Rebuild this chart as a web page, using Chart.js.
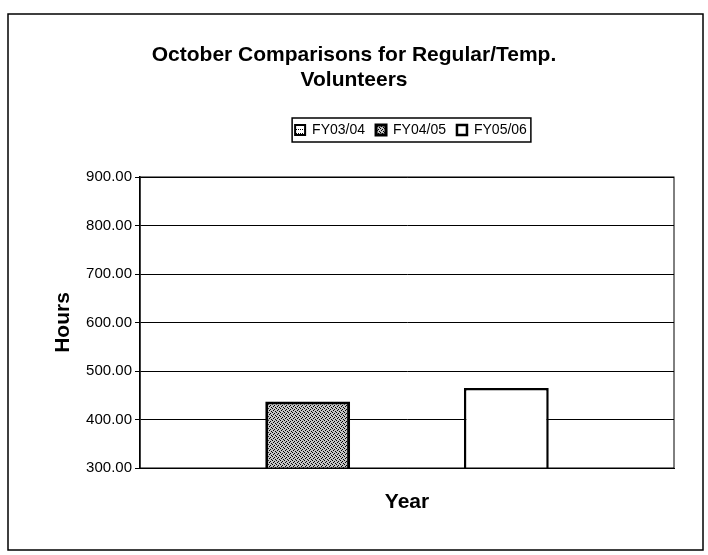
<!DOCTYPE html>
<html lang="en">
<head>
    <meta charset="UTF-8">
    <title>October Comparisons for Regular/Temp. Volunteers</title>
    <script src="https://cdn.jsdelivr.net/npm/chart.js"></script>
    <style>
        body { margin: 0; background: #fff; }
        #wrap { width: 708px; height: 555px; }
    </style>
</head>
<body>
    <div id="wrap"><canvas id="chart" width="708" height="555"></canvas></div>
    <script>
        const categories = ['Year'];
        const seriesNames = ['FY03/04', 'FY04/05', 'FY05/06'];
        const fy0304 = [null];
        const fy0405 = [437];
        const fy0506 = [465];
        const yTicks = [300, 400, 500, 600, 700, 800, 900];

        const FONT = '"Liberation Sans", Arial, sans-serif';

        // speckled gray fill like the scanned print
        function stipple(bg, dots) {
            const c = document.createElement('canvas');
            c.width = 4; c.height = 4;
            const g = c.getContext('2d');
            g.fillStyle = bg;
            g.fillRect(0, 0, 4, 4);
            g.fillStyle = '#000';
            dots.forEach(d => g.fillRect(d[0], d[1], 1, 1));
            return g.createPattern(c, 'repeat');
        }
        const darkFill = stipple('#c4c4c4', [[0, 0], [2, 1], [1, 2], [3, 3]]);
        const lightFill = stipple('#ffffff', [[0, 1], [2, 1]]);

        const framePlugin = {
            id: 'frame',
            beforeLayout(chart) {
                const lg = chart.legend;
                if (lg && !lg._patched) {
                    const fit = lg.fit;
                    lg.fit = function () { fit.call(this); this.height = 65; };
                    lg._patched = true;
                }
            },
            afterLayout(chart) {
                const lg = chart.legend;
                lg.left += 57;
                lg.right += 57;
            },
            beforeDraw(chart) {
                const ctx = chart.ctx;
                ctx.save();
                ctx.fillStyle = '#fff';
                ctx.fillRect(0, 0, chart.width, chart.height);
                ctx.strokeStyle = '#000';
                ctx.lineWidth = 1.5;
                ctx.strokeRect(8, 14, 695, 536);
                ctx.restore();
            },
            afterDraw(chart) {
                const ctx = chart.ctx;
                const a = chart.chartArea;
                ctx.save();
                ctx.strokeStyle = '#000';
                ctx.lineWidth = 1;
                ctx.strokeRect(a.left, a.top, a.right - a.left, a.bottom - a.top);
                const hb = chart.legend.legendHitBoxes;
                if (hb && hb.length) {
                    const first = hb[0], last = hb[hb.length - 1];
                    const cy = first.top + first.height / 2;
                    ctx.lineWidth = 1.5;
                    ctx.strokeRect(first.left - 3, cy - 12, last.left + last.width - first.left + 7, 24);
                }
                ctx.restore();
            }
        };

        new Chart(document.getElementById('chart'), {
            type: 'bar',
            data: {
                labels: categories,
                datasets: [
                    { label: seriesNames[0], data: fy0304, backgroundColor: lightFill, borderColor: '#000', borderWidth: 2, skipNull: true },
                    { label: seriesNames[1], data: fy0405, backgroundColor: darkFill, borderColor: '#000', borderWidth: 3, skipNull: true },
                    { label: seriesNames[2], data: fy0506, backgroundColor: '#fff', borderColor: '#000', borderWidth: 2.5, skipNull: true }
                ]
            },
            options: {
                responsive: false,
                animation: false,
                categoryPercentage: 0.744,
                barPercentage: 0.427,
                layout: { padding: { left: 34, right: 34, top: 0, bottom: 0 } },
                plugins: {
                    title: {
                        display: true,
                        text: ['October Comparisons for Regular/Temp.', 'Volunteers'],
                        color: '#000',
                        font: { family: FONT, size: 21, weight: 'bold', lineHeight: 1.2 },
                        padding: { top: 42.4, bottom: 19.2 }
                    },
                    legend: {
                        display: true,
                        labels: {
                            color: '#000',
                            font: { family: FONT, size: 14 },
                            boxWidth: 10,
                            boxHeight: 10,
                            padding: 11
                        }
                    },
                    tooltip: { enabled: false }
                },
                scales: {
                    x: {
                        grid: { display: false },
                        border: { display: true, color: '#000', width: 1 },
                        ticks: { display: false },
                        title: {
                            display: true,
                            text: 'Year',
                            color: '#000',
                            font: { family: FONT, size: 21, weight: 'bold', lineHeight: 1.2 },
                            padding: { top: 0, bottom: 40.4 }
                        },
                        afterFit(scale) { scale.height = 87; }
                    },
                    y: {
                        min: yTicks[0],
                        max: yTicks[yTicks.length - 1],
                        afterBuildTicks(scale) { scale.ticks = yTicks.map(v => ({ value: v })); },
                        grid: { color: '#000', lineWidth: 1, tickLength: 5, drawTicks: true },
                        border: { display: true, color: '#000', width: 1.5 },
                        ticks: {
                            color: '#000',
                            font: { family: FONT, size: 15 },
                            padding: 3,
                            callback: v => Number(v).toFixed(2)
                        },
                        title: {
                            display: true,
                            text: 'Hours',
                            color: '#000',
                            font: { family: FONT, size: 21, weight: 'bold', lineHeight: 1.2 },
                            padding: { top: 16.4, bottom: 0 }
                        },
                        afterFit(scale) { scale.width = 106; }
                    }
                }
            },
            plugins: [framePlugin]
        });
    </script>
</body>
</html>
